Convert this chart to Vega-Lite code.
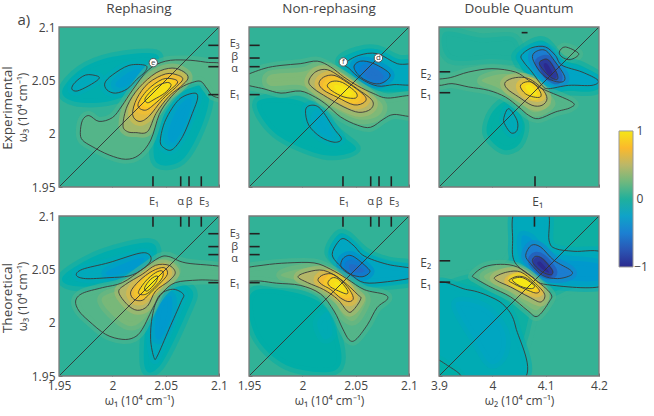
{"$schema":"https://vega.github.io/schema/vega-lite/v6.json","padding":{"left":1,"top":1,"right":0,"bottom":6},"background":"white",
"config":{"font":"Open Sans","view":{"stroke":null},"axis":{"grid":false,"domain":false,"labelColor":"#444","titleColor":"#444","labelFontSize":12,"titleFontSize":12,"titleFontWeight":"normal","tickColor":"#666","tickSize":-3,"labelPadding":7,"labelFlush":false,"format":"~g"},"text":{"color":"#444","fontSize":12}},
"datasets":{
"f1":[{"x":1.95,"x2":2.1,"y":1.95,"y2":2.1}],
"f2":[{"x":3.9,"x2":4.2,"y":1.95,"y2":2.1}],
"tA":[{"x":2.0381,"x2":2.0381,"y":1.95,"y2":1.96},{"x":2.0641,"x2":2.0641,"y":1.95,"y2":1.96},{"x":2.0719,"x2":2.0719,"y":1.95,"y2":1.96},{"x":2.0834,"x2":2.0834,"y":1.95,"y2":1.96},{"x":2.09,"x2":2.1,"y":2.0828,"y2":2.0828},{"x":2.09,"x2":2.1,"y":2.0709,"y2":2.0709},{"x":2.09,"x2":2.1,"y":2.0628,"y2":2.0628},{"x":2.09,"x2":2.1,"y":2.0366,"y2":2.0366}],
"tB":[{"x":2.0381,"x2":2.0381,"y":1.95,"y2":1.96},{"x":2.0641,"x2":2.0641,"y":1.95,"y2":1.96},{"x":2.0719,"x2":2.0719,"y":1.95,"y2":1.96},{"x":2.0834,"x2":2.0834,"y":1.95,"y2":1.96},{"x":1.95,"x2":1.96,"y":2.0828,"y2":2.0828},{"x":1.95,"x2":1.96,"y":2.0709,"y2":2.0709},{"x":1.95,"x2":1.96,"y":2.0628,"y2":2.0628},{"x":1.95,"x2":1.96,"y":2.0366,"y2":2.0366}],
"tC":[{"x":3.9,"x2":3.921,"y":2.058,"y2":2.058},{"x":3.9,"x2":3.921,"y":2.0384,"y2":2.0384},{"x":4.08,"x2":4.08,"y":1.95,"y2":1.96},{"x":4.055,"x2":4.066,"y":2.0947,"y2":2.0947}],
"tD":[{"x":2.0381,"x2":2.0381,"y":2.09,"y2":2.1},{"x":2.0641,"x2":2.0641,"y":2.09,"y2":2.1},{"x":2.0719,"x2":2.0719,"y":2.09,"y2":2.1},{"x":2.0834,"x2":2.0834,"y":2.09,"y2":2.1},{"x":2.09,"x2":2.1,"y":2.0834,"y2":2.0834},{"x":2.09,"x2":2.1,"y":2.0713,"y2":2.0713},{"x":2.09,"x2":2.1,"y":2.0638,"y2":2.0638},{"x":2.09,"x2":2.1,"y":2.0375,"y2":2.0375}],
"tE":[{"x":2.0381,"x2":2.0381,"y":2.09,"y2":2.1},{"x":2.0641,"x2":2.0641,"y":2.09,"y2":2.1},{"x":2.0719,"x2":2.0719,"y":2.09,"y2":2.1},{"x":2.0834,"x2":2.0834,"y":2.09,"y2":2.1},{"x":1.95,"x2":1.96,"y":2.0834,"y2":2.0834},{"x":1.95,"x2":1.96,"y":2.0713,"y2":2.0713},{"x":1.95,"x2":1.96,"y":2.0638,"y2":2.0638},{"x":1.95,"x2":1.96,"y":2.0375,"y2":2.0375}],
"tF":[{"x":3.9,"x2":3.921,"y":2.058,"y2":2.058},{"x":3.9,"x2":3.921,"y":2.038,"y2":2.038},{"x":4.079,"x2":4.079,"y":2.09,"y2":2.1}],
"lA":[{"x":2.039,"y":1.936,"t":"E₁"},{"x":2.064,"y":1.936,"t":"α"},{"x":2.072,"y":1.936,"t":"β"},{"x":2.086,"y":1.936,"t":"E₃"},{"x":2.1147,"y":2.084,"t":"E₃"},{"x":2.1147,"y":2.072,"t":"β"},{"x":2.1147,"y":2.0605,"t":"α"},{"x":2.1147,"y":2.0365,"t":"E₁"}],
"lB":[{"x":2.039,"y":1.936,"t":"E₁"},{"x":2.064,"y":1.936,"t":"α"},{"x":2.072,"y":1.936,"t":"β"},{"x":2.086,"y":1.936,"t":"E₃"}],
"lC":[{"x":3.875,"y":2.056,"t":"E₂"},{"x":3.875,"y":2.037,"t":"E₁"},{"x":4.085,"y":1.936,"t":"E₁"}],
"lD":[{"x":2.1147,"y":2.0832,"t":"E₃"},{"x":2.1147,"y":2.0713,"t":"β"},{"x":2.1147,"y":2.0595,"t":"α"},{"x":2.1147,"y":2.036,"t":"E₁"}],
"lF":[{"x":3.875,"y":2.056,"t":"E₂"},{"x":3.875,"y":2.036,"t":"E₁"}],
"side":[{"x":1.917,"y":2.1066,"t":"a)"}],
"A":[
{"c":"bg","v":0.04,"x":[1.9,2.15,2.15,1.9],"y":[1.9,1.9,2.15,2.15]},
{"c":"g1","v":-0.08,"x":[1.953,1.97,2.0,2.04,2.04,2.02,1.995,1.965],"y":[2.04,2.06,2.072,2.075,2.06,2.04,2.03,2.03]},
{"c":"g2","v":-0.08,"x":[2.04,2.045,2.07,2.09,2.085,2.065],"y":[1.975,2.02,2.045,2.04,2.01,1.975]},
{"c":"n1","v":-0.16,"k":true,"x":[1.962,1.965,1.975,1.986,1.987,1.978,1.967],"y":[2.042,2.048,2.055,2.054,2.051,2.045,2.04]},
{"c":"n2","v":-0.16,"k":true,"x":[1.993,2.0,2.0156,2.031,2.031,2.023,2.014,2.003,1.995],"y":[2.0475,2.055,2.064,2.064,2.0585,2.051,2.042,2.038,2.041]},
{"c":"n2b","v":-0.3,"x":[2.003,2.016,2.027,2.018,2.008],"y":[2.047,2.058,2.06,2.048,2.043]},
{"c":"n3","v":-0.16,"k":true,"x":[2.045,2.05,2.0625,2.0766,2.08,2.075,2.066,2.056,2.048],"y":[1.994,2.013,2.032,2.038,2.0335,2.019,1.9975,1.985,1.987]},
{"c":"n3b","v":-0.3,"x":[2.052,2.062,2.074,2.07,2.058],"y":[2.0,2.025,2.033,2.013,1.992]},
{"c":"p1","v":0.15,"k":true,"x":[1.97,1.972,1.978,1.9875,2.0,2.009,2.019,2.034,2.05,2.069,2.0875,2.106,2.106,2.095,2.089,2.083,2.075,2.064,2.053,2.044,2.036,2.025,2.0125,1.997,1.981,1.972],"y":[2.001,2.0125,2.017,2.0115,2.015,2.026,2.041,2.06,2.068,2.069,2.067,2.063,2.036,2.035,2.042,2.049,2.048,2.043,2.032,2.018,1.994,1.98,1.976,1.98,1.988,1.994]},
{"c":"p2","v":0.42,"k":true,"x":[2.01,2.014,2.025,2.041,2.056,2.067,2.071,2.064,2.053,2.041,2.033,2.022,2.014],"y":[2.008,2.026,2.043,2.057,2.0615,2.058,2.052,2.044,2.035,2.019,2.002,2.001,2.002]},
{"c":"p3","v":0.66,"k":true,"x":[2.019,2.023,2.034,2.05,2.061,2.066,2.059,2.047,2.034,2.025],"y":[2.018,2.033,2.0475,2.056,2.055,2.051,2.043,2.032,2.016,2.0115]},
{"c":"p4","v":0.8,"k":true,"x":[2.024,2.033,2.047,2.058,2.061,2.053,2.041,2.031],"y":[2.027,2.041,2.051,2.051,2.0475,2.04,2.029,2.022]},
{"c":"p5","v":0.96,"k":true,"x":[2.031,2.041,2.0515,2.055,2.049,2.039,2.033],"y":[2.0335,2.044,2.048,2.045,2.038,2.032,2.029]}
],
"B":[
{"c":"bg","v":0.04,"x":[1.9,2.15,2.15,1.9],"y":[1.9,1.9,2.15,2.15]},
{"c":"g1","v":-0.06,"x":[1.958,2.0,2.035,2.05,2.02,1.975],"y":[2.03,2.03,2.0,1.985,1.98,2.0]},
{"c":"n3","v":-0.14,"k":true,"x":[2.003,2.008,2.017,2.0297,2.0366,2.0297,2.017,2.006],"y":[2.022,2.0266,2.0234,2.0047,1.995,1.992,1.997,2.008]},
{"c":"n3b","v":-0.22,"x":[2.012,2.018,2.027,2.026,2.016],"y":[2.015,2.018,2.002,1.997,2.002]},
{"c":"n0","v":-0.06,"x":[2.035,2.053,2.07,2.09,2.11,2.11,2.07,2.05],"y":[2.068,2.078,2.079,2.07,2.068,2.043,2.04,2.05]},
{"c":"n1","v":-0.18,"k":true,"x":[2.0397,2.053,2.0703,2.089,2.106,2.106,2.086,2.0703,2.0547,2.044],"y":[2.0656,2.0734,2.075,2.0656,2.064,2.047,2.046,2.0447,2.0516,2.061]},
{"c":"n2","v":-0.45,"k":true,"x":[2.0484,2.0547,2.0672,2.082,2.0766,2.0672,2.0547],"y":[2.0625,2.068,2.0656,2.056,2.0484,2.047,2.053]},
{"c":"n2b","v":-0.58,"x":[2.058,2.067,2.076,2.072,2.061],"y":[2.06,2.062,2.054,2.05,2.052]},
{"c":"p1","v":0.15,"k":true,"x":[1.944,1.964,1.98,1.998,2.014,2.0266,2.039,2.0516,2.067,2.08,2.106,2.106,2.086,2.0766,2.064,2.0516,2.036,2.0234,2.0125,1.998,1.98,1.964,1.944],"y":[2.053,2.061,2.064,2.0656,2.068,2.0625,2.053,2.045,2.0375,2.0334,2.035,2.017,2.018,2.014,2.006,2.008,2.0156,2.0266,2.034,2.04,2.038,2.042,2.047]},
{"c":"p1b","v":0.3,"x":[1.97,2.0,2.014,2.03,2.06,2.075,2.07,2.05,2.02,2.0,1.97],"y":[2.055,2.058,2.063,2.06,2.04,2.027,2.016,2.014,2.03,2.045,2.045]},
{"c":"p2","v":0.48,"k":true,"x":[2.006,2.0125,2.0234,2.036,2.0516,2.0656,2.064,2.053,2.039,2.0234,2.011],"y":[2.049,2.058,2.06,2.053,2.042,2.031,2.023,2.02,2.025,2.034,2.042]},
{"c":"p3","v":0.72,"k":true,"x":[2.0156,2.02,2.0297,2.042,2.058,2.0584,2.0484,2.033,2.0203],"y":[2.047,2.053,2.0547,2.048,2.036,2.0297,2.027,2.034,2.0406]},
{"c":"p4","v":0.88,"k":true,"x":[2.0234,2.028,2.0375,2.05,2.05,2.039,2.028],"y":[2.045,2.049,2.048,2.039,2.0334,2.0344,2.04]},
{"c":"p5","v":1,"x":[2.0297,2.036,2.047,2.043,2.034],"y":[2.0447,2.045,2.0384,2.0353,2.039]}
],
"C":[
{"c":"bg","v":0.06,"x":[3.8,4.3,4.3,3.8],"y":[1.9,1.9,2.15,2.15]},
{"c":"g1","v":-0.04,"x":[4.0,4.03,4.06,4.05,4.02,3.99],"y":[2.02,2.03,2.01,1.99,1.985,2.0]},
{"c":"g2","v":0.0,"x":[3.91,3.98,4.04,4.05,4.0,3.92],"y":[2.095,2.09,2.09,2.07,2.07,2.07]},
{"c":"n3","v":-0.14,"k":true,"x":[4.0213,4.0306,4.0463,4.0463,4.0356,4.0244],"y":[2.0141,2.0234,2.0125,2.0031,2.0006,2.0078]},
{"c":"s1","v":0.14,"k":true,"x":[4.1256,4.1369,4.1619,4.1463,4.1306],"y":[2.0766,2.0813,2.075,2.0694,2.0719]},
{"c":"n0","v":-0.06,"x":[4.045,4.075,4.1,4.13,4.17,4.21,4.19,4.14,4.1,4.07,4.05],"y":[2.074,2.085,2.086,2.07,2.063,2.05,2.04,2.04,2.037,2.05,2.065]},
{"c":"n1","v":-0.22,"k":true,"x":[4.0544,4.0744,4.0994,4.1181,4.1306,4.1681,4.1981,4.1869,4.1431,4.1056,4.0931,4.0744,4.0588],"y":[2.0734,2.0806,2.0813,2.0734,2.0641,2.0578,2.05,2.0453,2.0453,2.0422,2.0453,2.0578,2.0672]},
{"c":"n2","v":-0.52,"k":true,"x":[4.0756,4.0806,4.0994,4.1181,4.1356,4.1306,4.1088,4.09],"y":[2.0703,2.0766,2.0781,2.0672,2.0538,2.0484,2.0506,2.0578]},
{"c":"n3c","v":-0.82,"k":true,"x":[4.0881,4.0931,4.1056,4.1213,4.1213,4.1088,4.0963],"y":[2.0656,2.0688,2.0688,2.0563,2.0506,2.0531,2.0594]},
{"c":"n4","v":-1,"x":[4.0963,4.1025,4.1131,4.1056],"y":[2.0641,2.0656,2.0563,2.0547]},
{"c":"p1","v":0.15,"k":true,"x":[3.887,3.921,3.9556,3.9994,4.0431,4.0681,4.0931,4.1494,4.1463,4.1181,4.0869,4.0681,4.0494,4.0244,3.9931,3.9556,3.9244,3.8994],"y":[2.05,2.0525,2.0578,2.0609,2.0578,2.05,2.0422,2.0297,2.0244,2.0203,2.0141,2.0172,2.025,2.0344,2.0406,2.0438,2.0469,2.0453]},
{"c":"p1b","v":0.3,"x":[3.98,4.02,4.06,4.09,4.11,4.08,4.05,4.01],"y":[2.05,2.056,2.052,2.038,2.028,2.02,2.03,2.043]},
{"c":"p2","v":0.5,"k":true,"x":[4.0244,4.0431,4.0681,4.0931,4.1025,4.0931,4.0744,4.0494,4.0275],"y":[2.0484,2.0525,2.0516,2.0422,2.0328,2.0266,2.0266,2.0344,2.0422]},
{"c":"p3","v":0.82,"k":true,"x":[4.0525,4.0619,4.0775,4.09,4.09,4.0775,4.0619],"y":[2.0444,2.0484,2.0475,2.0391,2.0344,2.0344,2.0375]},
{"c":"p4","v":1,"x":[4.0619,4.0713,4.0838,4.0775,4.0669],"y":[2.0444,2.0453,2.0375,2.0359,2.04]}
],
"D":[
{"c":"bg","v":0.03,"x":[1.9,2.15,2.15,1.9],"y":[1.9,1.9,2.15,2.15]},
{"c":"g1","v":-0.08,"x":[1.955,1.99,2.035,2.04,2.02,1.99,1.96],"y":[2.045,2.065,2.075,2.06,2.045,2.035,2.035]},
{"c":"g2","v":-0.08,"x":[2.03,2.035,2.055,2.075,2.07,2.045],"y":[1.96,2.02,2.038,2.03,2.01,1.96]},
{"c":"n1","v":-0.16,"k":true,"x":[1.9663,1.9719,1.9969,2.025,2.0344,2.0359,2.0281,2.0156,1.9969,1.975],"y":[2.0444,2.05,2.0563,2.065,2.064,2.0578,2.05,2.0438,2.0422,2.0413]},
{"c":"n1b","v":-0.32,"x":[1.995,2.02,2.03,2.02,2.0],"y":[2.048,2.059,2.06,2.05,2.044]},
{"c":"n2","v":-0.16,"k":true,"x":[2.0359,2.0375,2.0438,2.0563,2.0666,2.0641,2.0531,2.0422,2.0391],"y":[1.9844,2.0063,2.025,2.0313,2.0266,2.0188,1.9938,1.9688,1.9672]},
{"c":"n2b","v":-0.32,"x":[2.04,2.043,2.055,2.055,2.045],"y":[1.99,2.015,2.025,2.005,1.985]},
{"c":"p1","v":0.15,"k":true,"x":[1.9656,1.972,1.9906,2.0094,2.028,2.044,2.053,2.069,2.106,2.106,2.081,2.059,2.047,2.039,2.028,2.02,2.009,1.9938,1.978,1.9688],"y":[2.0203,2.0275,2.0328,2.0375,2.05,2.061,2.062,2.056,2.0516,2.0406,2.04,2.0375,2.028,2.0156,1.9938,1.986,1.9844,1.989,2.0016,2.0109]},
{"c":"p1b","v":0.28,"x":[1.99,2.01,2.03,2.05,2.06,2.045,2.035,2.02,2.005],"y":[2.022,2.032,2.044,2.057,2.048,2.03,2.01,1.997,2.003]},
{"c":"p2","v":0.48,"k":true,"x":[2.006,2.0125,2.028,2.0406,2.053,2.059,2.053,2.0406,2.033,2.0234,2.014],"y":[2.0288,2.0359,2.0453,2.0538,2.0538,2.0469,2.039,2.0297,2.0156,2.0116,2.017]},
{"c":"p3","v":0.7,"k":true,"x":[2.0172,2.025,2.0375,2.0484,2.0516,2.0438,2.0344,2.028,2.0203],"y":[2.0288,2.039,2.0484,2.0516,2.0453,2.0359,2.0266,2.0209,2.0219]},
{"c":"p4","v":0.85,"k":true,"x":[2.0244,2.0313,2.0406,2.0469,2.0469,2.039,2.0313],"y":[2.0281,2.039,2.0469,2.0484,2.0422,2.0328,2.0266]},
{"c":"p5","v":1,"k":true,"x":[2.0303,2.0359,2.0422,2.0406,2.0328],"y":[2.0328,2.0406,2.0438,2.0375,2.0297]}
],
"E":[
{"c":"bg","v":0.04,"x":[1.9,2.15,2.15,1.9],"y":[1.9,1.9,2.15,2.15]},
{"c":"g1","v":-0.05,"x":[1.955,2.015,2.035,2.03,1.985,1.955],"y":[2.03,2.02,1.98,1.955,1.96,1.99]},
{"c":"g2","v":-0.12,"x":[2.014,2.024,2.028,2.02],"y":[2.0,2.01,1.99,1.985]},
{"c":"n0","v":-0.06,"x":[2.025,2.033,2.042,2.06,2.08,2.11,2.11,2.08,2.05,2.04],"y":[2.065,2.082,2.082,2.066,2.058,2.053,2.04,2.035,2.035,2.05]},
{"c":"n1","v":-0.2,"k":true,"x":[2.028,2.033,2.039,2.0484,2.058,2.0797,2.106,2.106,2.0797,2.058,2.0453,2.034],"y":[2.064,2.075,2.0788,2.072,2.0625,2.0547,2.05,2.043,2.0384,2.0375,2.0453,2.0547]},
{"c":"n2","v":-0.46,"k":true,"x":[2.036,2.039,2.047,2.0609,2.063,2.056,2.045,2.038],"y":[2.0547,2.061,2.0625,2.0516,2.047,2.043,2.0453,2.05]},
{"c":"n2b","v":-0.62,"x":[2.044,2.05,2.058,2.054,2.046],"y":[2.054,2.054,2.049,2.047,2.048]},
{"c":"p1","v":0.15,"k":true,"x":[1.944,1.964,1.986,2.011,2.0266,2.042,2.058,2.0766,2.0797,2.07,2.061,2.05,2.0438,2.0375,2.0297,2.017,1.998,1.976,1.961,1.944],"y":[2.05,2.054,2.056,2.056,2.05,2.041,2.031,2.0266,2.022,2.014,1.998,1.984,1.984,1.995,2.011,2.027,2.035,2.037,2.039,2.04]},
{"c":"p1b","v":0.28,"x":[1.98,2.01,2.03,2.05,2.06,2.05,2.04,2.025,2.0],"y":[2.045,2.052,2.045,2.03,2.022,2.003,2.005,2.025,2.038]},
{"c":"p2","v":0.48,"k":true,"x":[1.996,2.005,2.02,2.036,2.0516,2.0547,2.047,2.042,2.033,2.02,2.005],"y":[2.043,2.0475,2.049,2.0406,2.0266,2.022,2.011,2.011,2.022,2.031,2.0375]},
{"c":"p3","v":0.72,"k":true,"x":[2.0147,2.02,2.0297,2.042,2.0478,2.0438,2.036,2.0266,2.018],"y":[2.0406,2.045,2.045,2.034,2.0234,2.0197,2.023,2.031,2.036]},
{"c":"p4","v":0.9,"k":true,"x":[2.024,2.028,2.034,2.042,2.0416,2.034,2.0266],"y":[2.0375,2.042,2.0406,2.031,2.027,2.0297,2.0334]},
{"c":"p5","v":1,"x":[2.0297,2.034,2.039,2.0375,2.033],"y":[2.0375,2.0375,2.031,2.03,2.033]}
],
"F":[
{"c":"bg","v":-0.03,"x":[3.8,4.3,4.3,3.8],"y":[1.9,1.9,2.15,2.15]},
{"c":"g1","v":0.05,"x":[4.1,4.21,4.21,4.06,4.07],"y":[2.02,2.03,1.94,1.94,1.99]},
{"c":"g2","v":0.04,"x":[3.89,4.03,4.03,3.95,3.89],"y":[2.11,2.11,2.06,2.045,2.045]},
{"c":"n1","v":-0.12,"k":true,"x":[3.8844,3.9531,3.9969,4.025,4.0438,4.0563,3.8844],"y":[2.0319,2.0309,2.0241,2.0147,1.9959,1.9459,1.9459]},
{"c":"n1b","v":-0.2,"x":[3.9313,3.9844,4.0219,4.0219,3.9969,3.9656],"y":[2.0178,2.0147,1.9928,1.9709,1.9616,1.985]},
{"c":"n1c","v":-0.05,"k":true,"x":[3.8875,3.9156,3.9406,3.8875],"y":[1.9663,1.96,1.949,1.9475]},
{"c":"n2","v":-0.16,"k":true,"x":[4.0438,4.0381,4.0419,4.075,4.1031,4.2094,4.2094,4.1531,4.1188,4.1063,4.1019],"y":[2.1053,2.0772,2.0569,2.0428,2.0356,2.035,2.0647,2.0669,2.0694,2.0772,2.1053]},
{"c":"n2b","v":-0.33,"x":[4.055,4.06,4.09,4.13,4.2,4.2,4.12,4.09,4.07],"y":[2.08,2.06,2.045,2.04,2.04,2.055,2.06,2.07,2.08]},
{"c":"n3","v":-0.52,"k":true,"x":[4.0625,4.0731,4.0906,4.1156,4.1469,4.1469,4.1219,4.0938,4.0719],"y":[2.0631,2.0725,2.0709,2.0584,2.0491,2.0444,2.0413,2.0444,2.0553]},
{"c":"n4","v":-0.82,"k":true,"x":[4.075,4.0813,4.0938,4.1125,4.1094,4.0938,4.0794],"y":[2.0584,2.0622,2.06,2.0491,2.045,2.0475,2.0538]},
{"c":"n5","v":-1,"x":[4.0844,4.0906,4.1063,4.0969],"y":[2.0553,2.0569,2.0475,2.0491]},
{"c":"p1","v":0.15,"k":true,"x":[3.9638,3.9844,4.0156,4.0469,4.0781,4.1094,4.1063,4.0844,4.0656,4.0344,3.9969,3.9688],"y":[2.0444,2.0522,2.0547,2.0522,2.0413,2.0272,2.0194,2.0059,2.0116,2.0241,2.0334,2.0413]},
{"c":"p1b","v":0.3,"x":[3.985,4.02,4.05,4.08,4.1,4.085,4.06,4.03,4.0],"y":[2.044,2.051,2.05,2.04,2.026,2.012,2.018,2.03,2.037]},
{"c":"p2","v":0.5,"k":true,"x":[4.005,4.0281,4.0531,4.0781,4.0981,4.0906,4.0688,4.0344,4.0094],"y":[2.0428,2.0475,2.0475,2.0381,2.0266,2.0194,2.0241,2.0334,2.0391]},
{"c":"p3","v":0.78,"k":true,"x":[4.0313,4.0469,4.0656,4.0875,4.0813,4.0594,4.0375],"y":[2.0397,2.0434,2.0413,2.0309,2.0278,2.0319,2.0372]},
{"c":"p4","v":1,"k":true,"x":[4.0375,4.0563,4.0781,4.0731,4.0531],"y":[2.0403,2.0422,2.035,2.0319,2.0341]}
]
},
"columns":4,"spacing":{"row":29,"column":30},"bounds":"flush",
"concat":[
{"width":160,"height":160,"encoding":{"x":{"field":"x","type":"quantitative","scale":{"domain":[1.95,2.1],"nice":false,"zero":false},"axis":{"values":[1.95,2,2.05,2.1],"labels":false,"title":null}},"y":{"field":"y","type":"quantitative","scale":{"domain":[1.95,2.1],"nice":false,"zero":false},"axis":{"values":[1.95,2,2.05,2.1],"title":"ω₃ (10⁴ cm⁻¹)","titlePadding":2}}},
"layer":[
{"data":{"name":"A"},"transform":[{"flatten":["x","y"]}],"mark":{"type":"line","interpolate":"cardinal-closed","clip":true,"strokeWidth":9,"strokeOpacity":0.5},"encoding":{"order":{"value":null},"detail":{"field":"c"},"fill":{"field":"v","type":"quantitative","legend":null,"scale":{"domain":[-1,-0.75,-0.5,-0.25,0,0.25,0.5,0.75,1],"range":["#2c2a8e","#2a56b4","#1c80d2","#0fa3c8","#20b09c","#6fb87e","#bbb768","#fbb92c","#f5e616"]}},"stroke":{"field":"v","type":"quantitative","legend":null,"scale":{"domain":[-1,-0.75,-0.5,-0.25,0,0.25,0.5,0.75,1],"range":["#2c2a8e","#2a56b4","#1c80d2","#0fa3c8","#20b09c","#6fb87e","#bbb768","#fbb92c","#f5e616"]}}}},
{"data":{"name":"A"},"transform":[{"filter":"datum.k"},{"flatten":["x","y"]}],"mark":{"type":"line","interpolate":"cardinal-closed","clip":true,"stroke":"#3a3a3a","strokeWidth":0.9},"encoding":{"order":{"value":null},"detail":{"field":"c"}}},
{"data":{"name":"f1"},"mark":{"type":"rule","stroke":"#333","strokeWidth":0.9},"encoding":{"x2":{"field":"x2"},"y2":{"field":"y2"}}},
{"data":{"name":"tA"},"mark":{"type":"rule","stroke":"#222","strokeWidth":1.6},"encoding":{"x2":{"field":"x2"},"y2":{"field":"y2"}}},
{"data":{"name":"f1"},"mark":{"type":"rect","fill":null,"stroke":"#7a7a7a","strokeWidth":1.3},"encoding":{"x2":{"field":"x2"},"y2":{"field":"y2"}}},
{"data":{"values":[{"x":2.0384,"y":2.0666}]},"mark":{"type":"point","filled":true,"fill":"white","stroke":"#555","strokeWidth":1,"size":70,"opacity":1}},
{"data":{"values":[{"x":2.0384,"y":2.0666,"t":"e"}]},"mark":{"type":"text","fontSize":8},"encoding":{"text":{"field":"t"}}},
{"data":{"name":"lA"},"mark":{"type":"text","fontSize":11},"encoding":{"text":{"field":"t"}}},
{"data":{"name":"side"},"mark":{"type":"text","fontSize":15},"encoding":{"text":{"field":"t"}}},
{"data":{"values":[{"x":2.025,"y":2.117,"t":"Rephasing"}]},"mark":{"type":"text","fontSize":13.5},"encoding":{"text":{"field":"t"}}},
{"data":{"values":[{"x":1.9024,"y":2.024,"t":"Experimental"}]},"mark":{"type":"text","fontSize":13.5,"angle":270},"encoding":{"text":{"field":"t"}}}
]},
{"width":160,"height":160,"encoding":{"x":{"field":"x","type":"quantitative","scale":{"domain":[1.95,2.1],"nice":false,"zero":false},"axis":{"values":[1.95,2,2.05,2.1],"labels":false,"title":null}},"y":{"field":"y","type":"quantitative","scale":{"domain":[1.95,2.1],"nice":false,"zero":false},"axis":{"values":[1.95,2,2.05,2.1],"labels":false,"title":null}}},
"layer":[
{"data":{"name":"B"},"transform":[{"flatten":["x","y"]}],"mark":{"type":"line","interpolate":"cardinal-closed","clip":true,"strokeWidth":9,"strokeOpacity":0.5},"encoding":{"order":{"value":null},"detail":{"field":"c"},"fill":{"field":"v","type":"quantitative","legend":null,"scale":{"domain":[-1,-0.75,-0.5,-0.25,0,0.25,0.5,0.75,1],"range":["#2c2a8e","#2a56b4","#1c80d2","#0fa3c8","#20b09c","#6fb87e","#bbb768","#fbb92c","#f5e616"]}},"stroke":{"field":"v","type":"quantitative","legend":null,"scale":{"domain":[-1,-0.75,-0.5,-0.25,0,0.25,0.5,0.75,1],"range":["#2c2a8e","#2a56b4","#1c80d2","#0fa3c8","#20b09c","#6fb87e","#bbb768","#fbb92c","#f5e616"]}}}},
{"data":{"name":"B"},"transform":[{"filter":"datum.k"},{"flatten":["x","y"]}],"mark":{"type":"line","interpolate":"cardinal-closed","clip":true,"stroke":"#3a3a3a","strokeWidth":0.9},"encoding":{"order":{"value":null},"detail":{"field":"c"}}},
{"data":{"name":"f1"},"mark":{"type":"rule","stroke":"#333","strokeWidth":0.9},"encoding":{"x2":{"field":"x2"},"y2":{"field":"y2"}}},
{"data":{"name":"tB"},"mark":{"type":"rule","stroke":"#222","strokeWidth":1.6},"encoding":{"x2":{"field":"x2"},"y2":{"field":"y2"}}},
{"data":{"name":"f1"},"mark":{"type":"rect","fill":null,"stroke":"#7a7a7a","strokeWidth":1.3},"encoding":{"x2":{"field":"x2"},"y2":{"field":"y2"}}},
{"data":{"values":[{"x":2.0384,"y":2.0672},{"x":2.0713,"y":2.0709}]},"mark":{"type":"point","filled":true,"fill":"white","stroke":"#555","strokeWidth":1,"size":70,"opacity":1}},
{"data":{"values":[{"x":2.0384,"y":2.0672,"t":"f"},{"x":2.0713,"y":2.0709,"t":"d"}]},"mark":{"type":"text","fontSize":8},"encoding":{"text":{"field":"t"}}},
{"data":{"values":[{"x":2.025,"y":2.117,"t":"Non-rephasing"}]},"mark":{"type":"text","fontSize":13.5},"encoding":{"text":{"field":"t"}}},
{"data":{"name":"lB"},"mark":{"type":"text","fontSize":11},"encoding":{"text":{"field":"t"}}}
]},
{"width":160,"height":160,"encoding":{"x":{"field":"x","type":"quantitative","scale":{"domain":[3.9,4.2],"nice":false,"zero":false},"axis":{"values":[3.9,4,4.1,4.2],"labels":false,"title":null}},"y":{"field":"y","type":"quantitative","scale":{"domain":[1.95,2.1],"nice":false,"zero":false},"axis":{"values":[1.95,2,2.05,2.1],"labels":false,"title":null}}},
"layer":[
{"data":{"name":"C"},"transform":[{"flatten":["x","y"]}],"mark":{"type":"line","interpolate":"cardinal-closed","clip":true,"strokeWidth":9,"strokeOpacity":0.5},"encoding":{"order":{"value":null},"detail":{"field":"c"},"fill":{"field":"v","type":"quantitative","legend":null,"scale":{"domain":[-1,-0.75,-0.5,-0.25,0,0.25,0.5,0.75,1],"range":["#2c2a8e","#2a56b4","#1c80d2","#0fa3c8","#20b09c","#6fb87e","#bbb768","#fbb92c","#f5e616"]}},"stroke":{"field":"v","type":"quantitative","legend":null,"scale":{"domain":[-1,-0.75,-0.5,-0.25,0,0.25,0.5,0.75,1],"range":["#2c2a8e","#2a56b4","#1c80d2","#0fa3c8","#20b09c","#6fb87e","#bbb768","#fbb92c","#f5e616"]}}}},
{"data":{"name":"C"},"transform":[{"filter":"datum.k"},{"flatten":["x","y"]}],"mark":{"type":"line","interpolate":"cardinal-closed","clip":true,"stroke":"#3a3a3a","strokeWidth":0.9},"encoding":{"order":{"value":null},"detail":{"field":"c"}}},
{"data":{"name":"f2"},"mark":{"type":"rule","stroke":"#333","strokeWidth":0.9},"encoding":{"x2":{"field":"x2"},"y2":{"field":"y2"}}},
{"data":{"name":"tC"},"mark":{"type":"rule","stroke":"#222","strokeWidth":1.6},"encoding":{"x2":{"field":"x2"},"y2":{"field":"y2"}}},
{"data":{"name":"f2"},"mark":{"type":"rect","fill":null,"stroke":"#7a7a7a","strokeWidth":1.3},"encoding":{"x2":{"field":"x2"},"y2":{"field":"y2"}}},
{"data":{"values":[{"x":4.05,"y":2.117,"t":"Double Quantum"}]},"mark":{"type":"text","fontSize":13.5},"encoding":{"text":{"field":"t"}}},
{"data":{"name":"lC"},"mark":{"type":"text"},"encoding":{"text":{"field":"t"}}}
]},
{"width":14,"height":160,"encoding":{"x":{"field":"x","type":"quantitative","scale":{"domain":[0,14],"nice":false,"zero":false},"axis":null},"y":{"field":"y","type":"quantitative","scale":{"domain":[0.176,2.529],"nice":false,"zero":false},"axis":null}},
"layer":[
{"data":{"values":[{"x":-10,"x2":4,"y":-1,"y2":1}]},"mark":{"type":"rect","stroke":"#999","strokeWidth":1,"fill":{"gradient":"linear","x1":0,"y1":1,"x2":0,"y2":0,"stops":[{"offset":0,"color":"#2c2a8e"},{"offset":0.125,"color":"#2a56b4"},{"offset":0.25,"color":"#1c80d2"},{"offset":0.375,"color":"#0fa3c8"},{"offset":0.5,"color":"#20b09c"},{"offset":0.625,"color":"#6fb87e"},{"offset":0.75,"color":"#bbb768"},{"offset":0.875,"color":"#fbb92c"},{"offset":1,"color":"#f5e616"}]}},"encoding":{"x2":{"field":"x2"},"y2":{"field":"y2"}}},
{"data":{"values":[{"x":11,"y":1,"t":"1"},{"x":11,"y":0,"t":"0"},{"x":12,"y":-1,"t":"−1"}]},"mark":{"type":"text"},"encoding":{"text":{"field":"t"}}}
]},
{"width":160,"height":160,"encoding":{"x":{"field":"x","type":"quantitative","scale":{"domain":[1.95,2.1],"nice":false,"zero":false},"axis":{"values":[1.95,2,2.05,2.1],"title":"ω₁ (10⁴ cm⁻¹)"}},"y":{"field":"y","type":"quantitative","scale":{"domain":[1.95,2.1],"nice":false,"zero":false},"axis":{"values":[1.95,2,2.05,2.1],"title":"ω₃ (10⁴ cm⁻¹)","titlePadding":2}}},
"layer":[
{"data":{"name":"D"},"transform":[{"flatten":["x","y"]}],"mark":{"type":"line","interpolate":"cardinal-closed","clip":true,"strokeWidth":9,"strokeOpacity":0.5},"encoding":{"order":{"value":null},"detail":{"field":"c"},"fill":{"field":"v","type":"quantitative","legend":null,"scale":{"domain":[-1,-0.75,-0.5,-0.25,0,0.25,0.5,0.75,1],"range":["#2c2a8e","#2a56b4","#1c80d2","#0fa3c8","#20b09c","#6fb87e","#bbb768","#fbb92c","#f5e616"]}},"stroke":{"field":"v","type":"quantitative","legend":null,"scale":{"domain":[-1,-0.75,-0.5,-0.25,0,0.25,0.5,0.75,1],"range":["#2c2a8e","#2a56b4","#1c80d2","#0fa3c8","#20b09c","#6fb87e","#bbb768","#fbb92c","#f5e616"]}}}},
{"data":{"name":"D"},"transform":[{"filter":"datum.k"},{"flatten":["x","y"]}],"mark":{"type":"line","interpolate":"cardinal-closed","clip":true,"stroke":"#3a3a3a","strokeWidth":0.9},"encoding":{"order":{"value":null},"detail":{"field":"c"}}},
{"data":{"name":"f1"},"mark":{"type":"rule","stroke":"#333","strokeWidth":0.9},"encoding":{"x2":{"field":"x2"},"y2":{"field":"y2"}}},
{"data":{"name":"tD"},"mark":{"type":"rule","stroke":"#222","strokeWidth":1.6},"encoding":{"x2":{"field":"x2"},"y2":{"field":"y2"}}},
{"data":{"name":"f1"},"mark":{"type":"rect","fill":null,"stroke":"#7a7a7a","strokeWidth":1.3},"encoding":{"x2":{"field":"x2"},"y2":{"field":"y2"}}},
{"data":{"name":"lD"},"mark":{"type":"text","fontSize":11},"encoding":{"text":{"field":"t"}}},
{"data":{"values":[{"x":1.9024,"y":2.0231,"t":"Theoretical"}]},"mark":{"type":"text","fontSize":13.5,"angle":270},"encoding":{"text":{"field":"t"}}}
]},
{"width":160,"height":160,"encoding":{"x":{"field":"x","type":"quantitative","scale":{"domain":[1.95,2.1],"nice":false,"zero":false},"axis":{"values":[1.95,2,2.05,2.1],"title":"ω₁ (10⁴ cm⁻¹)"}},"y":{"field":"y","type":"quantitative","scale":{"domain":[1.95,2.1],"nice":false,"zero":false},"axis":{"values":[1.95,2,2.05,2.1],"labels":false,"title":null}}},
"layer":[
{"data":{"name":"E"},"transform":[{"flatten":["x","y"]}],"mark":{"type":"line","interpolate":"cardinal-closed","clip":true,"strokeWidth":9,"strokeOpacity":0.5},"encoding":{"order":{"value":null},"detail":{"field":"c"},"fill":{"field":"v","type":"quantitative","legend":null,"scale":{"domain":[-1,-0.75,-0.5,-0.25,0,0.25,0.5,0.75,1],"range":["#2c2a8e","#2a56b4","#1c80d2","#0fa3c8","#20b09c","#6fb87e","#bbb768","#fbb92c","#f5e616"]}},"stroke":{"field":"v","type":"quantitative","legend":null,"scale":{"domain":[-1,-0.75,-0.5,-0.25,0,0.25,0.5,0.75,1],"range":["#2c2a8e","#2a56b4","#1c80d2","#0fa3c8","#20b09c","#6fb87e","#bbb768","#fbb92c","#f5e616"]}}}},
{"data":{"name":"E"},"transform":[{"filter":"datum.k"},{"flatten":["x","y"]}],"mark":{"type":"line","interpolate":"cardinal-closed","clip":true,"stroke":"#3a3a3a","strokeWidth":0.9},"encoding":{"order":{"value":null},"detail":{"field":"c"}}},
{"data":{"name":"f1"},"mark":{"type":"rule","stroke":"#333","strokeWidth":0.9},"encoding":{"x2":{"field":"x2"},"y2":{"field":"y2"}}},
{"data":{"name":"tE"},"mark":{"type":"rule","stroke":"#222","strokeWidth":1.6},"encoding":{"x2":{"field":"x2"},"y2":{"field":"y2"}}},
{"data":{"name":"f1"},"mark":{"type":"rect","fill":null,"stroke":"#7a7a7a","strokeWidth":1.3},"encoding":{"x2":{"field":"x2"},"y2":{"field":"y2"}}}
]},
{"width":160,"height":160,"encoding":{"x":{"field":"x","type":"quantitative","scale":{"domain":[3.9,4.2],"nice":false,"zero":false},"axis":{"values":[3.9,4,4.1,4.2],"title":"ω₂ (10⁴ cm⁻¹)"}},"y":{"field":"y","type":"quantitative","scale":{"domain":[1.95,2.1],"nice":false,"zero":false},"axis":{"values":[1.95,2,2.05,2.1],"labels":false,"title":null}}},
"layer":[
{"data":{"name":"F"},"transform":[{"flatten":["x","y"]}],"mark":{"type":"line","interpolate":"cardinal-closed","clip":true,"strokeWidth":9,"strokeOpacity":0.5},"encoding":{"order":{"value":null},"detail":{"field":"c"},"fill":{"field":"v","type":"quantitative","legend":null,"scale":{"domain":[-1,-0.75,-0.5,-0.25,0,0.25,0.5,0.75,1],"range":["#2c2a8e","#2a56b4","#1c80d2","#0fa3c8","#20b09c","#6fb87e","#bbb768","#fbb92c","#f5e616"]}},"stroke":{"field":"v","type":"quantitative","legend":null,"scale":{"domain":[-1,-0.75,-0.5,-0.25,0,0.25,0.5,0.75,1],"range":["#2c2a8e","#2a56b4","#1c80d2","#0fa3c8","#20b09c","#6fb87e","#bbb768","#fbb92c","#f5e616"]}}}},
{"data":{"name":"F"},"transform":[{"filter":"datum.k"},{"flatten":["x","y"]}],"mark":{"type":"line","interpolate":"cardinal-closed","clip":true,"stroke":"#3a3a3a","strokeWidth":0.9},"encoding":{"order":{"value":null},"detail":{"field":"c"}}},
{"data":{"name":"f2"},"mark":{"type":"rule","stroke":"#333","strokeWidth":0.9},"encoding":{"x2":{"field":"x2"},"y2":{"field":"y2"}}},
{"data":{"name":"tF"},"mark":{"type":"rule","stroke":"#222","strokeWidth":1.6},"encoding":{"x2":{"field":"x2"},"y2":{"field":"y2"}}},
{"data":{"name":"f2"},"mark":{"type":"rect","fill":null,"stroke":"#7a7a7a","strokeWidth":1.3},"encoding":{"x2":{"field":"x2"},"y2":{"field":"y2"}}},
{"data":{"name":"lF"},"mark":{"type":"text"},"encoding":{"text":{"field":"t"}}}
]}
]}
